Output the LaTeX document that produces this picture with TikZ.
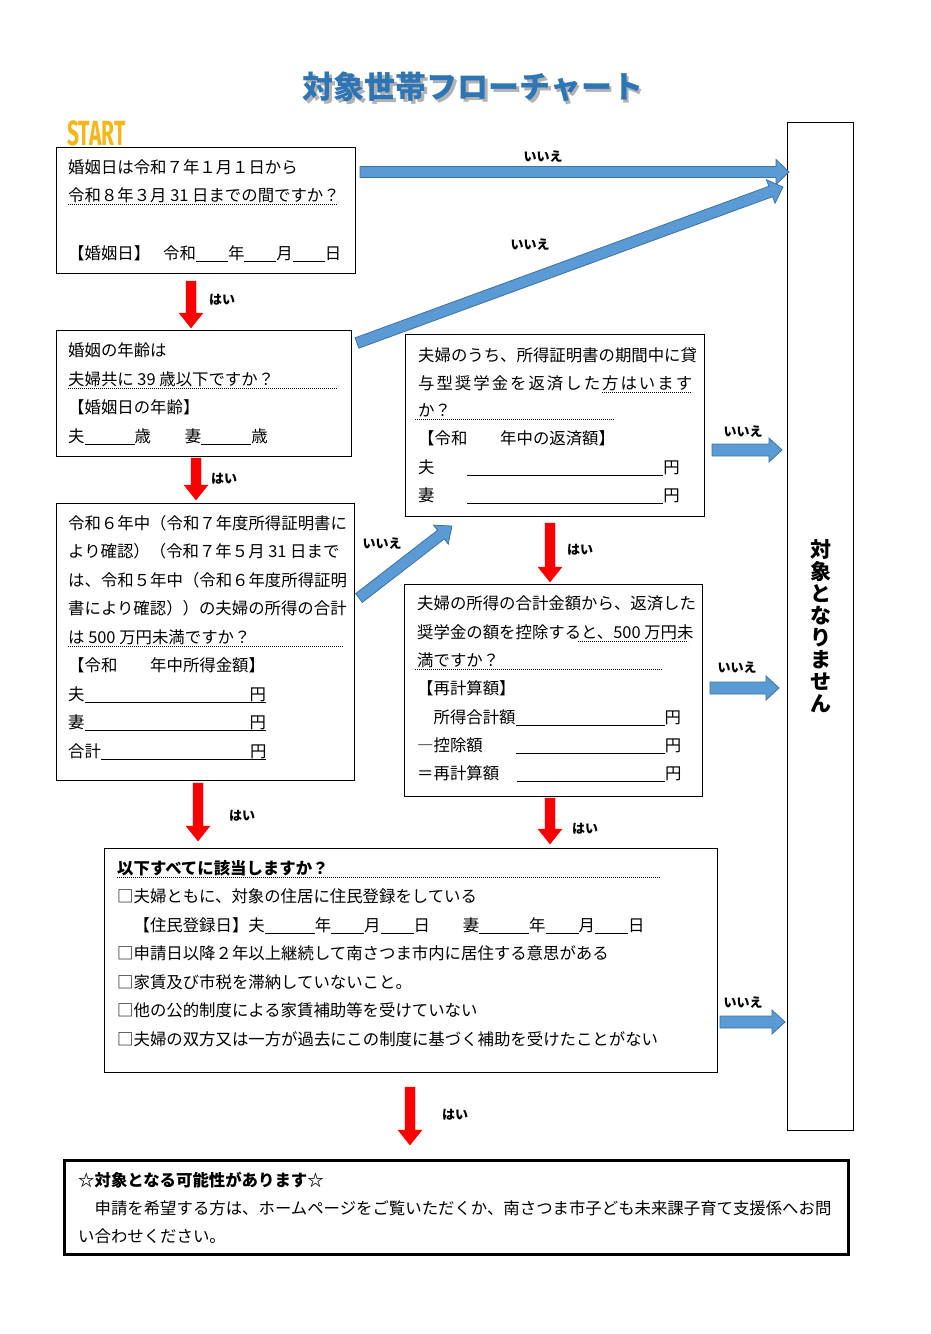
\documentclass[tikz,border=0pt]{standalone}
\usepackage{graphicx}
\usepackage{fontspec}
\setmainfont{Noto Sans CJK JP}
\newfontfamily\startfont{Fira Sans}
\usetikzlibrary{calc}
\definecolor{bfill}{RGB}{91,155,213}
\definecolor{bedge}{RGB}{65,113,156}
\definecolor{rfill}{RGB}{250,0,0}
\definecolor{ttlblue}{RGB}{46,117,182}
\definecolor{startc}{RGB}{246,182,24}
\newcommand\blank[1]{\rule[-2.5pt]{#1}{0.9pt}}
\newcommand\blankyen[1]{\rlap{\rule[-2.5pt]{\dimexpr#1+1em\relax}{0.9pt}}\hspace{#1}円}
\tikzset{
  shaftw/.store in=\shaftw, headw/.store in=\headw, headl/.store in=\headl,
  shaftw=11, headw=25, headl=13,
  blockarrow/.style={to path={
    let \p1=(\tikztostart), \p2=(\tikztotarget),
        \n1={atan2(\y2-\y1,\x2-\x1)}, \n2={veclen(\x2-\x1,\y2-\y1)} in
    {[shift={(\p1)}, rotate=\n1]
      (0,-\shaftw/2) -- (\n2-\headl,-\shaftw/2) -- (\n2-\headl,-\headw/2) -- (\n2,0)
      -- (\n2-\headl,\headw/2) -- (\n2-\headl,\shaftw/2) -- (0,\shaftw/2) -- cycle}
  }},
  barrow/.style={blockarrow, fill=bfill, draw=bedge, line width=0.8pt},
  rarrow/.style={blockarrow, fill=rfill, draw=rfill, line width=0.3pt, shaftw=10, headw=24, headl=15},
  box/.style={draw=black, line width=1.3pt, anchor=north west, inner sep=0pt, rectangle},
  txt/.style={anchor=base west, inner sep=0pt, font=\fontsize{16.4}{20}\selectfont},
  btxt/.style={txt, font=\bfseries\fontsize{16.4}{20}\selectfont},
  lbl/.style={inner sep=0pt, font=\bfseries\fontsize{13}{15}\selectfont},
  dotul/.style={line width=0.8pt, dash pattern=on 0.9pt off 1.1pt},
}
\begin{document}
\begin{tikzpicture}[x=1pt,y=-1pt]
\useasboundingbox (0,0) rectangle (930,1334);
\fill[white] (0,0) rectangle (930,1334);

% title and start
\node[inner sep=0pt, text=black!30, font=\bfseries\fontsize{31}{34}\selectfont] (titlesh) at (475.5,89.5) {対象世帯フローチャート};
\node[inner sep=0pt, text=ttlblue, font=\bfseries\fontsize{31}{34}\selectfont] (title) at (473,87) {対象世帯フローチャート};
\node[anchor=base west, inner sep=0pt, text=startc, font=\startfont\bfseries\fontsize{35}{36}\selectfont] (start) at (67,145) {\scalebox{0.6}[1]{START}};

% boxes
\node[box, minimum width=299pt, minimum height=126pt] (b1) at (56,147) {};
\node[box, minimum width=295pt, minimum height=126pt] (b2) at (56,330) {};
\node[box, minimum width=298pt, minimum height=277pt] (b3) at (56,503) {};
\node[box, minimum width=299pt, minimum height=182pt] (b4) at (405,334) {};
\node[box, minimum width=298pt, minimum height=212pt] (b5) at (404,584) {};
\node[box, minimum width=613pt, minimum height=224pt] (b6) at (104,848) {};
\node[box, line width=3pt, minimum width=784pt, minimum height=94pt] (b7) at (63,1159) {};
\node[box, minimum width=66pt, minimum height=1008pt] (nt) at (787,122) {};
\node[inner sep=0pt, align=center, font=\bfseries\fontsize{21}{22}\selectfont] (ntt) at (nt.center) {対\\象\\と\\な\\り\\ま\\せ\\ん};

% box 1
\node[txt] (t1a) at (68,173) {婚姻日は令和７年１月１日から};
\node[txt] (t1b) at (68,201) {令和８年３月 31 日までの間ですか？};
\draw[dotul] (68,204.5) -- (338,204.5);
\node[txt] (t1c) at (68,259) {【婚姻日】\hspace{13pt}令和\blank{32pt}年\blank{32pt}月\blank{32pt}日};

% box 2
\node[txt] (t2a) at (68,356) {婚姻の年齢は};
\node[txt] (t2b) at (68,385) {夫婦共に 39 歳以下ですか？};
\draw[dotul] (68,388.5) -- (338,388.5);
\node[txt] (t2c) at (68,413) {【婚姻日の年齢】};
\node[txt] (t2d) at (68,442) {夫\blank{50pt}歳\hspace{34pt}妻\blank{50pt}歳};

% box 3
\node[txt] (t3a) at (68,529) {令和６年中（令和７年度所得証明書に};
\node[txt] (t3b) at (68,557) {より確認）（令和７年５月 31 日まで};
\node[txt] (t3c) at (68,586) {は、令和５年中（令和６年度所得証明};
\node[txt] (t3d) at (68,614) {書により確認））の夫婦の所得の合計};
\node[txt] (t3e) at (68,643) {は 500 万円未満ですか？};
\draw[dotul] (68,646.5) -- (343,646.5);
\node[txt] (t3f) at (68,671) {【令和　　年中所得金額】};
\node[txt] (t3g) at (68,700) {夫\blankyen{165pt}};
\node[txt] (t3h) at (68,728) {妻\blankyen{165pt}};
\node[txt] (t3i) at (68,757) {合計\blankyen{149pt}};

% box 4
\node[txt] (t4a) at (418,361) {夫婦のうち、所得証明書の期間中に貸};
\node[txt] (t4b) at (418,389) {\makebox[274pt][s]{与\hfill 型\hfill 奨\hfill 学\hfill 金\hfill を\hfill 返\hfill 済\hfill し\hfill た\hfill 方\hfill は\hfill い\hfill ま\hfill す}};
\draw[dotul] (602,392.5) -- (692,392.5);
\node[txt] (t4c) at (418,416) {か？};
\draw[dotul] (415,419.5) -- (615,419.5);
\node[txt] (t4d) at (418,444) {【令和　　年中の返済額】};
\node[txt] (t4e) at (418,473) {夫　　\blank{196pt}円};
\node[txt] (t4f) at (418,501) {妻　　\blank{196pt}円};

% box 5
\node[txt] (t5a) at (417,609) {夫婦の所得の合計金額から、返済した};
\node[txt] (t5b) at (417,638) {奨学金の額を控除すると、500 万円未};
\draw[dotul] (578,641.5) -- (688,641.5);
\node[txt] (t5c) at (417,666) {満ですか？};
\draw[dotul] (415,669.5) -- (662,669.5);
\node[txt] (t5d) at (417,694) {【再計算額】};
\node[txt] (t5e) at (417,723) {　所得合計額\blank{149pt}円};
\node[txt] (t5f) at (417,751) {―控除額\hspace{33pt}\blank{149pt}円};
\node[txt] (t5g) at (417,779) {＝再計算額\hspace{18pt}\blank{148pt}円};

% box 6
\node[btxt] (t6a) at (117,874) {以下すべてに該当しますか？};
\draw[dotul] (117,877.5) -- (660,877.5);
\node[txt] (t6b) at (117,902) {□夫婦ともに、対象の住居に住民登録をしている};
\node[txt] (t6c) at (117,931) {　【住民登録日】夫\blank{50pt}年\blank{33pt}月\blank{33pt}日　　妻\blank{50pt}年\blank{33pt}月\blank{33pt}日};
\node[txt] (t6d) at (117,959) {□申請日以降２年以上継続して南さつま市内に居住する意思がある};
\node[txt] (t6e) at (117,988) {□家賃及び市税を滞納していないこと。};
\node[txt] (t6f) at (117,1016) {□他の公的制度による家賃補助等を受けていない};
\node[txt] (t6g) at (117,1045) {□夫婦の双方又は一方が過去にこの制度に基づく補助を受けたことがない};

% final box
\node[btxt] (t7a) at (78,1186) {☆対象となる可能性があります☆};
\node[txt] (t7b) at (78,1214) {　申請を希望する方は、ホームページをご覧いただくか、南さつま市子ども未来課子育て支援係へお問};
\node[txt] (t7c) at (78,1242) {い合わせください。};

% arrow end points
\coordinate (y1s) at (191,281); \coordinate (y1e) at (191,328);
\coordinate (y2s) at (196,458); \coordinate (y2e) at (196,500);
\coordinate (y3s) at (198,783); \coordinate (y3e) at (198,841);
\coordinate (y4s) at (550,523); \coordinate (y4e) at (550,582);
\coordinate (y5s) at (550,798); \coordinate (y5e) at (550,844);
\coordinate (y6s) at (410,1087); \coordinate (y6e) at (410,1145);
\coordinate (n1s) at (360,172); \coordinate (n1e) at (789,172);
\coordinate (n2s) at (357,343); \coordinate (n2e) at (783,187);
\coordinate (n3s) at (712,450); \coordinate (n3e) at (782,450);
\coordinate (n4s) at (710,688); \coordinate (n4e) at (779,688);
\coordinate (n5s) at (720,1022); \coordinate (n5e) at (785,1022);
\coordinate (n6s) at (359,598); \coordinate (n6e) at (452,526);

% yes arrows
\draw[rarrow] (y1s) to (y1e);
\draw[rarrow] (y2s) to (y2e);
\draw[rarrow] (y3s) to (y3e);
\draw[rarrow] (y4s) to (y4e);
\draw[rarrow] (y5s) to (y5e);
\draw[rarrow] (y6s) to (y6e);
% no arrows
\draw[barrow] (n1s) to (n1e);
\draw[barrow] (n2s) to (n2e);
\draw[barrow, shaftw=12, headw=24, headl=13] (n3s) to (n3e);
\draw[barrow, shaftw=12, headw=24, headl=13] (n4s) to (n4e);
\draw[barrow, shaftw=12, headw=24, headl=13] (n5s) to (n5e);
\draw[barrow, shaftw=11, headw=24, headl=14] (n6s) to (n6e);

% labels
\node[lbl] (ly1) at (222,300) {はい};
\node[lbl] (ly2) at (224,479) {はい};
\node[lbl] (ly3) at (242,816) {はい};
\node[lbl] (ly4) at (580,550) {はい};
\node[lbl] (ly5) at (585,829) {はい};
\node[lbl] (ly6) at (455,1115) {はい};
\node[lbl] (ln1) at (543,157) {いいえ};
\node[lbl] (ln2) at (530,245) {いいえ};
\node[lbl] (ln3) at (743,432) {いいえ};
\node[lbl] (ln4) at (737,668) {いいえ};
\node[lbl] (ln5) at (743,1003) {いいえ};
\node[lbl] (ln6) at (382,544) {いいえ};
\end{tikzpicture}
\end{document}
